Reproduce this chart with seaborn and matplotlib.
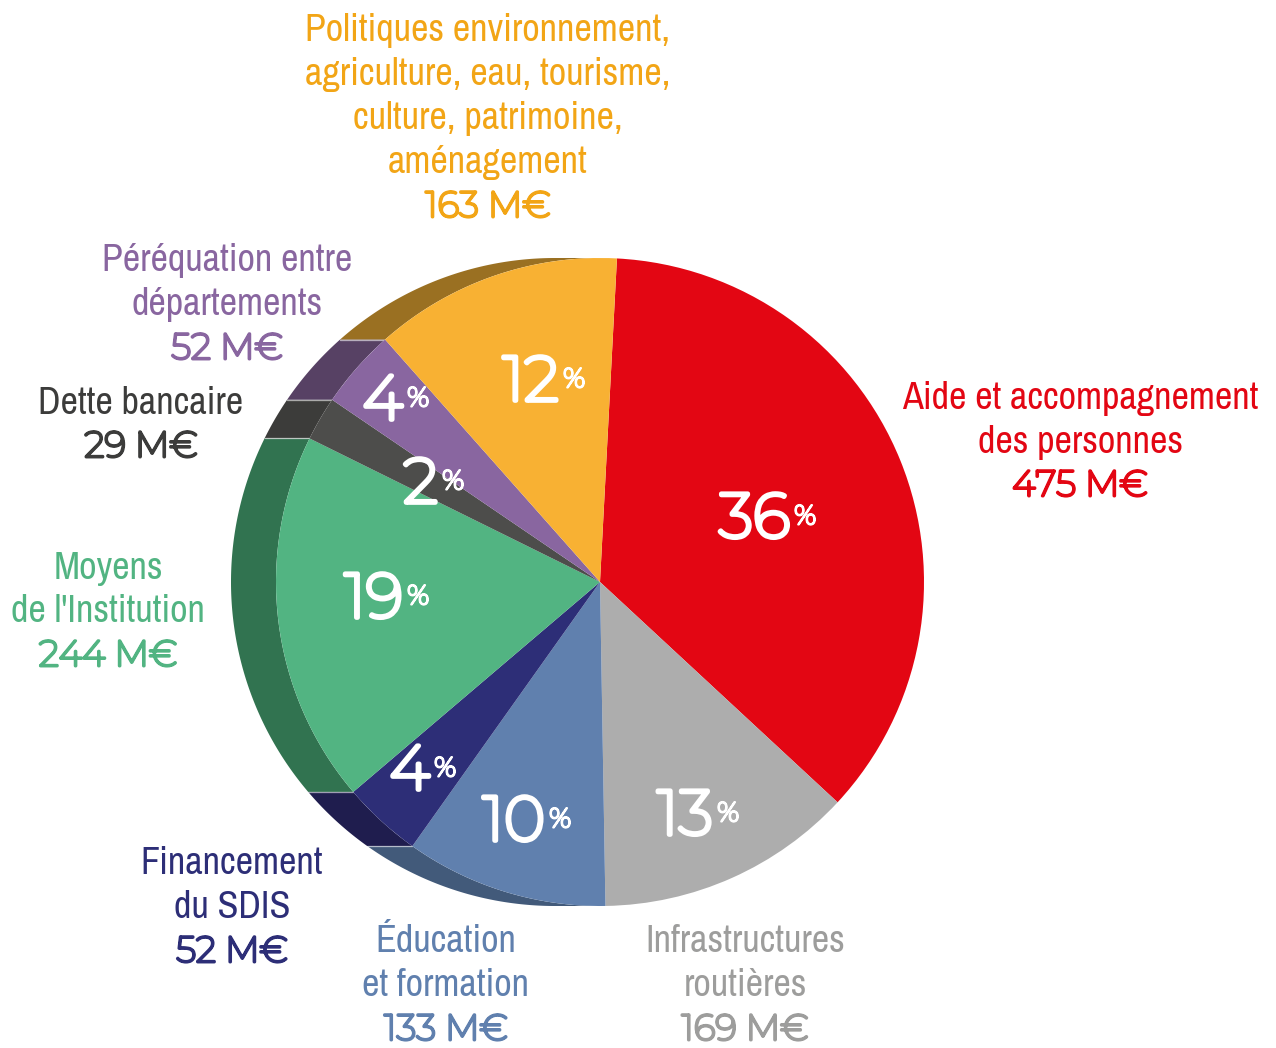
import numpy as np
import matplotlib
matplotlib.use("Agg")
import matplotlib.pyplot as plt
import matplotlib.patheffects as pe
import seaborn as sns
from matplotlib import font_manager

# ---------------- data ----------------
categories = [
    "Aide et accompagnement\ndes personnes",
    "Infrastructures\nroutières",
    "Éducation\net formation",
    "Financement\ndu SDIS",
    "Moyens\nde l'Institution",
    "Dette bancaire",
    "Péréquation entre\ndépartements",
    "Politiques environnement,\nagriculture, eau, tourisme,\nculture, patrimoine,\naménagement",
]
amounts = [475, 169, 133, 52, 244, 29, 52, 163]
percents = [36, 13, 10, 4, 19, 2, 4, 12]

colors = ["#E30613", "#ADADAD", "#6080AE", "#2D2E77", "#52B482", "#4D4D4B", "#8966A0", "#F8B133"]
shadow_colors = ["#8E0A0F", "#6E6E6E", "#425A7A", "#1F1D4E", "#317350", "#3C3C3A", "#574164", "#9A7022"]
text_colors = ["#E30613", "#9D9D9C", "#6080AE", "#2D2E77", "#52B482", "#3C3C3B", "#8966A0", "#F2A516"]

# ---------------- layout (pixels) ----------------
W, H = 1276, 1048
CX, CY, R = 600, 582, 324
DEPTH = 45
label_pos = [(1080, 398), (745, 942), (446, 942), (232, 864), (108, 568),
             (141, 403), (227, 261), (488, 31)]
pct_pos = [(792, 520), (715, 817), (547, 823), (432, 772), (405, 600),
           (440, 485), (405, 402), (561, 383)]
LINE = 44

sns.set_theme(style="white")
names = {f.name for f in font_manager.fontManager.ttflist}
cond_font = "Archivo Narrow" if "Archivo Narrow" in names else "DejaVu Sans"
num_font = "Montserrat" if "Montserrat" in names else "Inter"
plt.rcParams["font.family"] = [num_font, "DejaVu Sans"]

fig = plt.figure(figsize=(W / 100, H / 100), dpi=100)
ax = fig.add_axes([0, 0, 1, 1])


def Y(y):
    return H - y


wedges, _ = ax.pie(amounts, colors=colors, startangle=87, counterclock=False,
                   center=(CX, Y(CY)), radius=R,
                   wedgeprops=dict(linewidth=0, zorder=3))

# extrusion visible on the left half
for w, sc in zip(wedges, shadow_colors):
    t1 = w.theta1 % 360
    t2 = t1 + (w.theta2 - w.theta1)
    for lo, hi in [(90, 270), (450, 630)]:
        a, b = max(t1, lo), min(t2, hi)
        if b > a:
            th = np.radians(np.linspace(a, b, 200))
            fx = CX + R * np.cos(th)
            fy = Y(CY) + R * np.sin(th)
            xs = np.concatenate([fx, (fx - DEPTH)[::-1]])
            ys = np.concatenate([fy, fy[::-1]])
            ax.fill(xs, ys, color=sc, lw=0, zorder=1)
            for ang in (a, b):
                if lo < ang < hi:
                    r_ = np.radians(ang)
                    px = CX + R * np.cos(r_)
                    py = Y(CY) + R * np.sin(r_)
                    ax.plot([px - DEPTH, px], [py, py], color="white", alpha=0.35,
                            lw=0.9, zorder=2)


def thick(lw, col):
    return [pe.withStroke(linewidth=lw, foreground=col)]


# percentage labels
for p, (x, y) in zip(percents, pct_pos):
    ax.text(x - 2, Y(y), str(p), ha="right", va="center", color="white",
            fontsize=45, family=[num_font, "DejaVu Sans"], zorder=5,
            path_effects=thick(3.4, "white"))
    ax.text(x + 2, Y(y - 3), "%", ha="left", va="center", color="white",
            fontsize=20, family=[num_font, "DejaVu Sans"], zorder=5,
            path_effects=thick(1.5, "white"))

# category labels
for cat, amt, col, (x, y) in zip(categories, amounts, text_colors, label_pos):
    lines = cat.split("\n")
    for i, ln in enumerate(lines):
        ax.text(x, Y(y + i * LINE), ln, ha="center", va="center", color=col,
                fontsize=27.5, family=[cond_font, "DejaVu Sans"], zorder=5)
    ax.text(x, Y(y + len(lines) * LINE), f"{amt} M€", ha="center", va="center",
            color=col, fontsize=26, family=[num_font, "DejaVu Sans"], zorder=5,
            path_effects=thick(2.1, col))

ax.set_xlim(0, W)
ax.set_ylim(0, H)
ax.set_aspect("equal")
ax.axis("off")
fig.savefig("out.png", dpi=100, facecolor="white")
